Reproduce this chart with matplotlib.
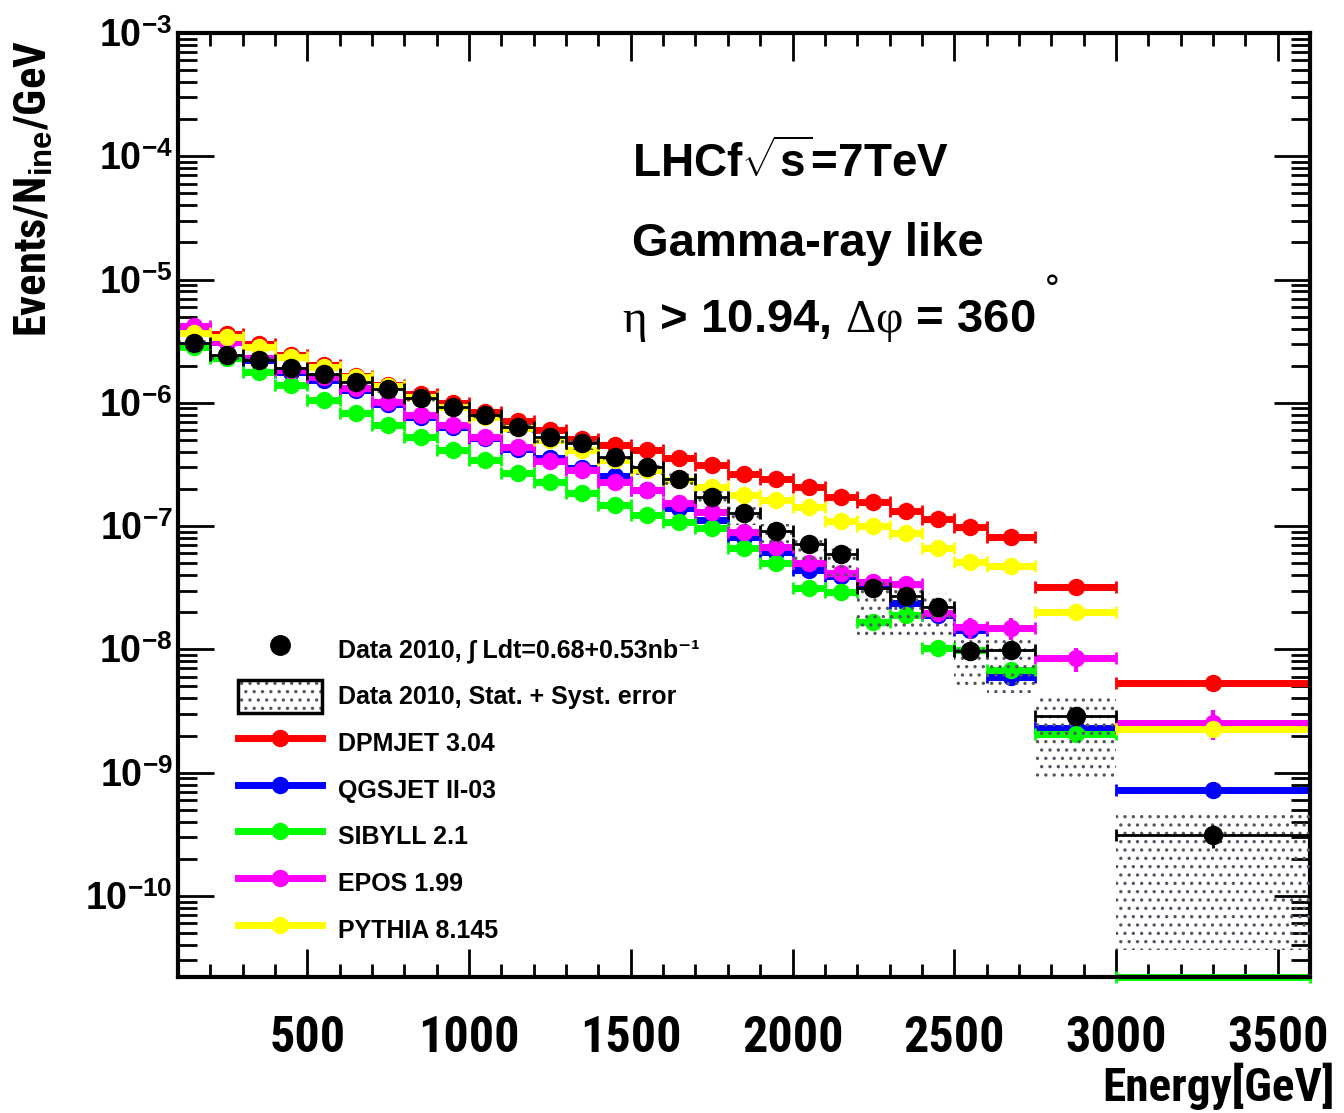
import numpy as np
import matplotlib
matplotlib.use("Agg")
import matplotlib.pyplot as plt
from matplotlib import font_manager
from matplotlib.font_manager import FontProperties
from matplotlib.patches import Patch, Rectangle
from matplotlib.lines import Line2D
from matplotlib.legend_handler import HandlerTuple, HandlerPatch
from matplotlib.ticker import (MultipleLocator, LogLocator, FixedLocator,
                               NullFormatter, FuncFormatter)

# energy binning [GeV]: 100 GeV bins up to 2.6 TeV, then wider ones
bin_edges = np.array(list(range(100, 2700, 100)) + [2750, 3000, 3600], dtype=float)

# LHCf 2010 data, events / N_ine / GeV
data = [3.04e-6, 2.43e-6, 2.22e-6, 1.91e-6, 1.71e-6, 1.47e-6, 1.29e-6, 1.09e-6,
        9.21e-7, 7.93e-7, 6.34e-7, 5.26e-7, 4.70e-7, 3.62e-7, 3.00e-7, 2.40e-7,
        1.72e-7, 1.27e-7, 9.09e-8, 7.13e-8, 5.92e-8, 3.14e-8, 2.70e-8, 2.20e-8,
        9.67e-9, 9.85e-9, 2.87e-9, 3.11e-10]
# relative statistical error
data_stat = [0.01, 0.01, 0.01, 0.01, 0.01, 0.012, 0.012, 0.014, 0.015, 0.016,
             0.018, 0.02, 0.022, 0.025, 0.028, 0.03, 0.035, 0.04, 0.045, 0.05,
             0.055, 0.07, 0.075, 0.08, 0.09, 0.10, 0.13, 0.22]
# relative stat+syst band (upper / lower)
sys_up = [0.06, 0.06, 0.06, 0.07, 0.07, 0.07, 0.08, 0.08, 0.08, 0.09, 0.09, 0.10,
          0.10, 0.11, 0.11, 0.12, 0.12, 0.13, 0.15, 0.16, 0.16, 0.16, 0.16, 0.30,
          0.28, 0.28, 0.43, 0.60]
sys_down = [0.08, 0.08, 0.08, 0.09, 0.09, 0.09, 0.10, 0.10, 0.10, 0.11, 0.11, 0.12,
            0.12, 0.13, 0.14, 0.15, 0.17, 0.20, 0.24, 0.29, 0.34, 0.60, 0.535, 0.46,
            0.52, 0.55, 0.68, 0.883]

# model predictions
dpmjet = [3.95e-6, 3.60e-6, 2.99e-6, 2.43e-6, 2.02e-6, 1.64e-6, 1.39e-6, 1.17e-6,
          9.93e-7, 8.39e-7, 7.09e-7, 5.99e-7, 5.07e-7, 4.53e-7, 4.13e-7, 3.55e-7,
          3.12e-7, 2.64e-7, 2.40e-7, 2.07e-7, 1.72e-7, 1.56e-7, 1.32e-7, 1.14e-7,
          9.80e-8, 8.13e-8, 3.20e-8, 5.32e-9]
qgsjet = [3.88e-6, 3.10e-6, 2.22e-6, 1.77e-6, 1.53e-6, 1.27e-6, 9.74e-7, 7.64e-7,
          6.34e-7, 5.16e-7, 4.21e-7, 3.55e-7, 2.95e-7, 2.54e-7, 1.96e-7, 1.40e-7,
          1.12e-7, 8.13e-8, 6.14e-8, 4.39e-8, 3.92e-8, 3.26e-8, 2.37e-8, 1.89e-8,
          1.43e-8, 5.95e-9, 2.30e-9, 7.21e-10]
sibyll = [2.82e-6, 2.30e-6, 1.77e-6, 1.39e-6, 1.05e-6, 8.24e-7, 6.58e-7, 5.26e-7,
          4.13e-7, 3.42e-7, 2.69e-7, 2.27e-7, 1.85e-7, 1.48e-7, 1.23e-7, 1.08e-7,
          9.61e-8, 6.62e-8, 5.00e-8, 3.14e-8, 2.91e-8, 1.66e-8, 1.89e-8, 1.02e-8,
          9.85e-9, 6.78e-9, 2.04e-9, 0.0]
epos = [4.18e-6, 3.10e-6, 2.30e-6, 1.84e-6, 1.61e-6, 1.31e-6, 1.01e-6, 7.93e-7,
        6.58e-7, 5.26e-7, 4.36e-7, 3.36e-7, 2.84e-7, 2.27e-7, 1.96e-7, 1.53e-7,
        1.30e-7, 8.92e-8, 6.74e-8, 5.00e-8, 4.15e-8, 3.51e-8, 3.38e-8, 1.97e-8,
        1.51e-8, 1.49e-8, 8.48e-9, 2.52e-9]
epos_err = [0.02, 0.02, 0.02, 0.02, 0.02, 0.02, 0.03, 0.03, 0.03, 0.03, 0.03, 0.04,
            0.04, 0.04, 0.04, 0.05, 0.05, 0.05, 0.06, 0.06, 0.07, 0.08, 0.08, 0.10,
            0.20, 0.20, 0.22, 0.27]
pythia = [3.67e-6, 3.40e-6, 2.82e-6, 2.34e-6, 1.94e-6, 1.61e-6, 1.36e-6, 1.11e-6,
          9.21e-7, 7.64e-7, 6.22e-7, 4.97e-7, 4.13e-7, 3.42e-7, 2.84e-7, 2.36e-7,
          2.07e-7, 1.78e-7, 1.62e-7, 1.42e-7, 1.10e-7, 9.98e-8, 8.76e-8, 6.62e-8,
          5.10e-8, 4.73e-8, 2.00e-8, 2.25e-9]

models = [
    ("DPMJET 3.04", dpmjet, "#ff0000"),
    ("QGSJET II-03", qgsjet, "#0000ff"),
    ("SIBYLL 2.1", sibyll, "#00ff00"),
    ("EPOS 1.99", epos, "#ff00ff"),
    ("PYTHIA 8.145", pythia, "#ffff00"),
]

Y_MIN, Y_MAX = 2.2e-11, 1e-3
W, H = 1344, 1113
SYS_COLOR = "#555566"


def find_narrow_bold():
    """Look for an installed condensed/narrow bold sans face."""
    ranked = []
    for f in font_manager.fontManager.ttflist:
        tag = (f.name + " " + str(f.stretch) + " " + f.fname).lower()
        if not any(k in tag for k in ("narrow", "condensed")):
            continue
        if f.style != "normal" or f.weight not in (700, "bold"):
            continue
        prio = 0 if "liberation" in tag else 1 if "roboto" in tag else 2
        ranked.append((prio, f.fname))
    return sorted(ranked)[0][1] if ranked else None


narrow_file = find_narrow_bold()


def axis_font(size):
    if narrow_file:
        return FontProperties(fname=narrow_file, size=size)
    return FontProperties(family="Liberation Sans", weight="bold", size=size * 0.9)


plt.rcParams.update({
    "font.family": ["Liberation Sans", "DejaVu Sans"],
    "font.weight": "bold",
    "mathtext.fontset": "custom",
    "mathtext.rm": "Liberation Sans:bold",
    "mathtext.bf": "Liberation Sans:bold",
    "mathtext.it": "Liberation Serif:regular",
    "mathtext.sf": "Liberation Serif:regular",
    "hatch.linewidth": 1.2,
})

centers = 0.5 * (bin_edges[:-1] + bin_edges[1:])
half = 0.5 * np.diff(bin_edges)
data = np.array(data)

fig = plt.figure(figsize=(W / 100, H / 100), dpi=100)
ax = fig.add_axes([178 / W, 1 - 977 / H, (1310 - 178) / W, (977 - 33) / H])
ax.set_yscale("log")
ax.set_xlim(bin_edges[0], bin_edges[-1])
ax.set_ylim(Y_MIN, Y_MAX)

# models: thick horizontal bars over each bin with a marker at the centre
for i, (label, vals, color) in enumerate(models):
    vals = np.array(vals)
    v = np.maximum(vals, Y_MIN)
    eb = ax.errorbar(centers, v, xerr=half, fmt="o", color=color, ms=11.5,
                     elinewidth=5, capsize=4.5, capthick=2, zorder=2 + 0.1 * i)
    # empty bins: the bar rests on the frame, no marker
    eb.lines[0].set_ydata(np.where(vals < Y_MIN, np.nan, v))
    for art in list(eb.lines[1]) + list(eb.lines[2]):
        art.set_clip_on(False)
    if label.startswith("EPOS"):
        ax.errorbar(centers, v, yerr=v * np.array(epos_err), fmt="none",
                    ecolor=color, elinewidth=3, capsize=0, zorder=2 + 0.1 * i)

# stat + syst band for the data
lo = data * (1 - np.array(sys_down))
hi = data * (1 + np.array(sys_up))
ax.bar(bin_edges[:-1], hi - lo, width=np.diff(bin_edges), bottom=lo, align="edge",
       fill=False, hatch="..", edgecolor=SYS_COLOR, linewidth=0, zorder=4)

# data points
ax.errorbar(centers, data, xerr=half, fmt="o", color="black", ms=13,
            elinewidth=2, capsize=4, capthick=2, zorder=5)
ax.errorbar(centers, data, yerr=data * np.array(data_stat), fmt="none",
            ecolor="black", elinewidth=2, capsize=0, zorder=5)

# axes styling
ax.xaxis.set_major_locator(MultipleLocator(500))
ax.xaxis.set_minor_locator(MultipleLocator(100))
ax.yaxis.set_major_locator(FixedLocator([10.0 ** k for k in range(-10, -2)]))
ax.yaxis.set_minor_locator(LogLocator(base=10, subs=np.arange(2, 10), numticks=40))
ax.yaxis.set_minor_formatter(NullFormatter())
ax.yaxis.set_major_formatter(FuncFormatter(lambda v, p: r"$10^{%d}$" % round(np.log10(v))))
ax.tick_params(which="both", direction="in", top=True, right=True, width=2)
ax.tick_params(axis="x", which="major", length=20, pad=27)
ax.tick_params(axis="x", which="minor", length=9.5)
ax.tick_params(axis="y", which="major", length=26, labelsize=27, pad=4)
ax.tick_params(axis="y", which="minor", length=14)
for lab in ax.get_xticklabels():
    lab.set_fontproperties(axis_font(36))
for s in ax.spines.values():
    s.set_linewidth(3)

fig.text(34 / W, 1 - 40 / H, r"Events/N$_{\mathrm{ine}}$/GeV", rotation=90,
         ha="center", va="top", fontproperties=axis_font(32))
fig.text(1335 / W, 1 - 1101 / H, "Energy[GeV]", ha="right", va="baseline",
         fontproperties=axis_font(34))

fig.text(632 / W, 1 - 177 / H, r"LHCf$\sqrt{\mathrm{s}}$=7TeV", fontsize=33, va="baseline")
fig.text(632 / W, 1 - 256 / H, "Gamma-ray like", fontsize=34, va="baseline")
fig.text(622 / W, 1 - 332 / H, r"$\mathsf{\eta}$ > 10.94, $\mathsf{\Delta\varphi}$ = 360",
         fontsize=34, va="baseline")
fig.text(1044 / W, 1 - 274 / H, "\u00b0", fontsize=24, fontweight="normal",
         family="DejaVu Sans", va="top")


def tall_box(legend, orig_handle, xdescent, ydescent, width, height, fontsize):
    h = 1.3 * fontsize
    return Rectangle((-xdescent, -ydescent + (height - h) / 2), width, h)


# legend
handles = [Line2D([], [], ls="none", marker="o", color="black", ms=14),
           (Patch(facecolor="none", edgecolor=SYS_COLOR, hatch="..", linewidth=0),
            Patch(facecolor="none", edgecolor="black", linewidth=2.5))]
labels = ["Data 2010, \u222b Ldt=0.68+0.53nb\u207b\u00b9",
          "Data 2010, Stat. + Syst. error"]
for label, vals, color in models:
    handles.append(Line2D([], [], color=color, lw=5, marker="o", ms=11.5))
    labels.append(label)
ax.legend(handles, labels, loc="upper left", bbox_to_anchor=(238 / W, 1 - 632 / H),
          bbox_transform=fig.transFigure, frameon=False, fontsize=18,
          handlelength=3.36, handleheight=1.8, handletextpad=0.64,
          labelspacing=0.45, borderpad=0, borderaxespad=0, numpoints=1,
          handler_map={tuple: HandlerTuple(ndivide=1),
                       Patch: HandlerPatch(patch_func=tall_box)})

fig.savefig("out.png", dpi=100, facecolor="white")
